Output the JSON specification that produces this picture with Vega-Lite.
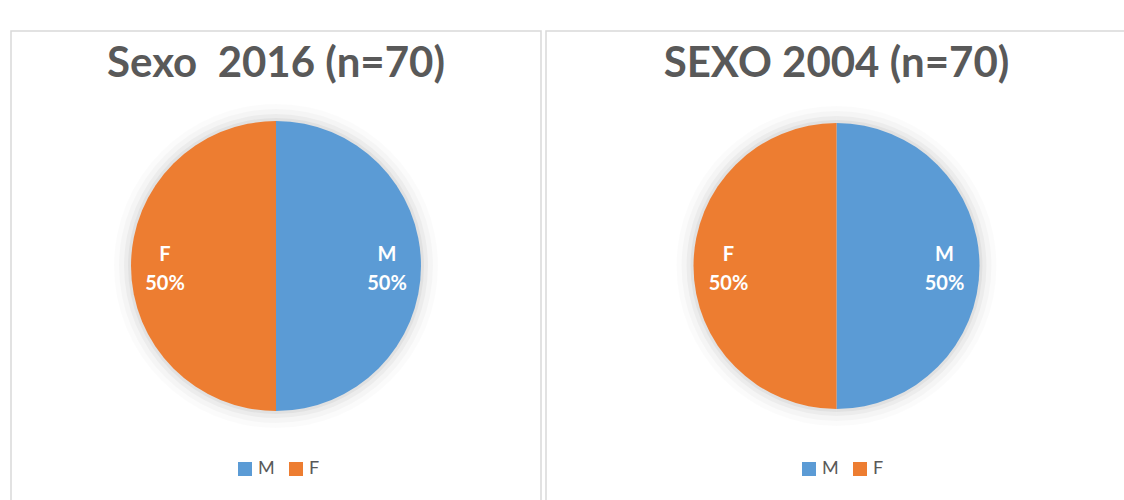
{
  "$schema": "https://vega.github.io/schema/vega-lite/v6.json",
  "padding": {"left": 10, "top": 30, "right": 0, "bottom": 0},
  "spacing": 3,
  "background": "white",
  "config": {
    "view": {"stroke": "#d9d9d9", "strokeWidth": 1.5},
    "font": "Lato"
  },
  "datasets": {
    "d2016": [
      {"sexo": "M", "pct": 50, "idx": 1},
      {"sexo": "F", "pct": 50, "idx": 2}
    ],
    "d2004": [
      {"sexo": "M", "pct": 50, "idx": 1},
      {"sexo": "F", "pct": 50, "idx": 2}
    ]
  },
  "resolve": {"scale": {"color": "independent"}, "legend": {"color": "independent"}},
  "hconcat": [
    {
      "width": 530,
      "height": 470,
      "view": {"stroke": "#d9d9d9", "strokeWidth": 1.5, "fill": "white"},
      "data": {"name": "d2016"},
      "transform": [{"calculate": "datum.sexo + '\\n' + datum.pct + '%'", "as": "label"}],
      "title": {"text": "Sexo\u00a0 2016 (n=70)", "font": "Lato", "fontSize": 42, "fontWeight": "bold", "color": "#595959", "anchor": "middle", "offset": -55},
      "layer": [
        {"mark": {"type": "arc", "radius": 162, "color": "#000000", "opacity": 0.015}, "encoding": {"theta": {"field": "pct", "type": "quantitative", "stack": true}, "detail": {"field": "sexo"}, "order": {"field": "idx"}}},
        {"mark": {"type": "arc", "radius": 157, "color": "#000000", "opacity": 0.025}, "encoding": {"theta": {"field": "pct", "type": "quantitative", "stack": true}, "detail": {"field": "sexo"}, "order": {"field": "idx"}}},
        {"mark": {"type": "arc", "radius": 152, "color": "#000000", "opacity": 0.035}, "encoding": {"theta": {"field": "pct", "type": "quantitative", "stack": true}, "detail": {"field": "sexo"}, "order": {"field": "idx"}}},
        {"mark": {"type": "arc", "radius": 148, "color": "#000000", "opacity": 0.045}, "encoding": {"theta": {"field": "pct", "type": "quantitative", "stack": true}, "detail": {"field": "sexo"}, "order": {"field": "idx"}}},
        {
          "mark": {"type": "arc", "radius": 145},
          "encoding": {
            "theta": {"field": "pct", "type": "quantitative", "stack": true},
            "order": {"field": "idx"},
            "color": {
              "field": "sexo", "type": "nominal",
              "scale": {"domain": ["M", "F"], "range": ["#5B9BD5", "#ED7D31"]},
              "legend": {"orient": "none", "legendX": 225, "legendY": 429, "direction": "horizontal", "title": null, "symbolType": "square", "symbolSize": 196, "symbolOpacity": 1, "symbolStrokeWidth": 0, "labelFont": "Lato", "labelFontSize": 18, "labelColor": "#595959", "columnPadding": 12, "labelOffset": 4}
            }
          }
        },
        {
          "mark": {"type": "text", "radius": 111, "lineBreak": "\n", "font": "Lato", "fontWeight": "bold", "fontSize": 20, "color": "white", "lineHeight": 29, "dy": -11},
          "encoding": {
            "theta": {"field": "pct", "type": "quantitative", "stack": true},
            "order": {"field": "idx"},
            "detail": {"field": "sexo"},
            "text": {"field": "label"}
          }
        }
      ]
    },
    {
      "width": 581,
      "height": 470,
      "view": {"stroke": "#d9d9d9", "strokeWidth": 1.5, "fill": "white"},
      "data": {"name": "d2004"},
      "transform": [{"calculate": "datum.sexo + '\\n' + datum.pct + '%'", "as": "label"}],
      "title": {"text": "SEXO 2004 (n=70)", "font": "Lato", "fontSize": 42, "fontWeight": "bold", "color": "#595959", "anchor": "middle", "offset": -55},
      "layer": [
        {"mark": {"type": "arc", "radius": 160, "color": "#000000", "opacity": 0.015}, "encoding": {"theta": {"field": "pct", "type": "quantitative", "stack": true}, "detail": {"field": "sexo"}, "order": {"field": "idx"}}},
        {"mark": {"type": "arc", "radius": 155, "color": "#000000", "opacity": 0.025}, "encoding": {"theta": {"field": "pct", "type": "quantitative", "stack": true}, "detail": {"field": "sexo"}, "order": {"field": "idx"}}},
        {"mark": {"type": "arc", "radius": 150, "color": "#000000", "opacity": 0.035}, "encoding": {"theta": {"field": "pct", "type": "quantitative", "stack": true}, "detail": {"field": "sexo"}, "order": {"field": "idx"}}},
        {"mark": {"type": "arc", "radius": 146, "color": "#000000", "opacity": 0.045}, "encoding": {"theta": {"field": "pct", "type": "quantitative", "stack": true}, "detail": {"field": "sexo"}, "order": {"field": "idx"}}},
        {
          "mark": {"type": "arc", "radius": 143},
          "encoding": {
            "theta": {"field": "pct", "type": "quantitative", "stack": true},
            "order": {"field": "idx"},
            "color": {
              "field": "sexo", "type": "nominal",
              "scale": {"domain": ["M", "F"], "range": ["#5B9BD5", "#ED7D31"]},
              "legend": {"orient": "none", "legendX": 254, "legendY": 429, "direction": "horizontal", "title": null, "symbolType": "square", "symbolSize": 196, "symbolOpacity": 1, "symbolStrokeWidth": 0, "labelFont": "Lato", "labelFontSize": 18, "labelColor": "#595959", "columnPadding": 12, "labelOffset": 4}
            }
          }
        },
        {
          "mark": {"type": "text", "radius": 108, "lineBreak": "\n", "font": "Lato", "fontWeight": "bold", "fontSize": 20, "color": "white", "lineHeight": 29, "dy": -11},
          "encoding": {
            "theta": {"field": "pct", "type": "quantitative", "stack": true},
            "order": {"field": "idx"},
            "detail": {"field": "sexo"},
            "text": {"field": "label"}
          }
        }
      ]
    }
  ]
}
